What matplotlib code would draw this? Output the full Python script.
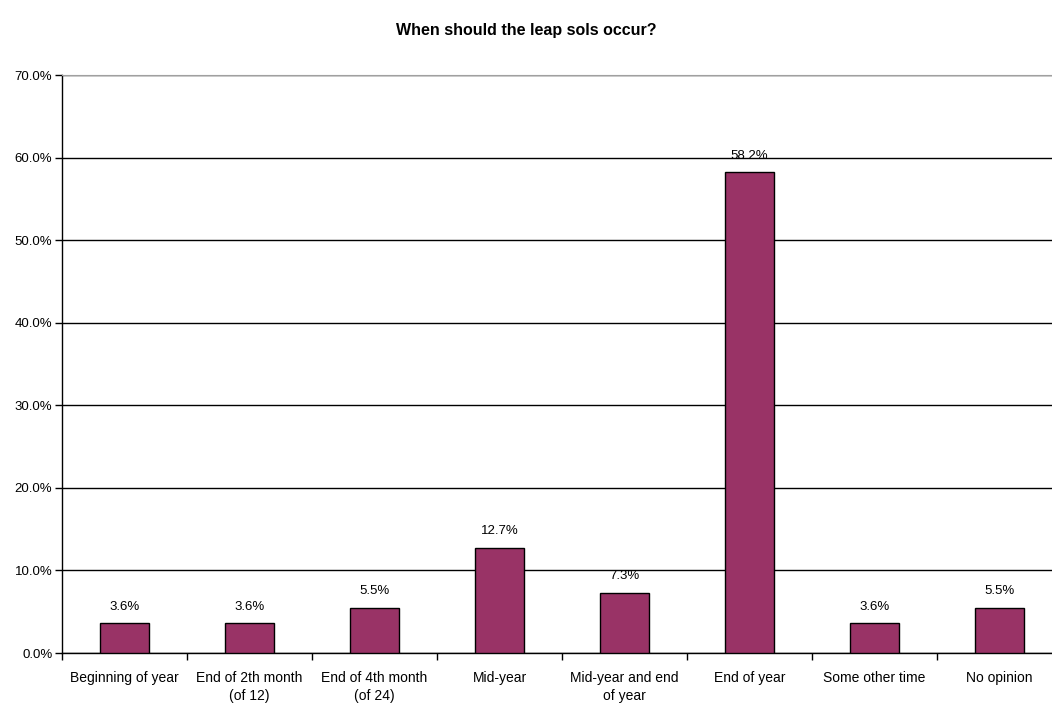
import numpy as np
import matplotlib.pyplot as plt
from matplotlib.ticker import FuncFormatter

plt.rcParams['font.family'] = ['Liberation Sans', 'DejaVu Sans']

# survey answers
answers = ['Beginning of year', 'End of 2th month\n(of 12)', 'End of 4th month\n(of 24)',
           'Mid-year', 'Mid-year and end\nof year', 'End of year',
           'Some other time', 'No opinion']
shares = [3.6, 3.6, 5.5, 12.7, 7.3, 58.2, 3.6, 5.5]

fig = plt.figure(figsize=(10.52, 7.06), dpi=100)
ax = fig.add_axes([62/1052, 1 - 653/706, 1000/1052, (653 - 75)/706])

x = np.arange(len(answers))
ax.bar(x, shares, width=0.39, color='#993366', edgecolor='black', linewidth=1, zorder=3)

for xi, v in zip(x, shares):
    ax.text(xi, v + 1.3, '%.1f%%' % v, ha='center', va='bottom', fontsize=9.5)

ax.set_xlim(-0.5, len(answers) - 0.5)
ax.set_ylim(0, 70)
ax.set_yticks(np.arange(0, 71, 10))
ax.yaxis.set_major_formatter(FuncFormatter(lambda v, p: '%.1f%%' % v))
ax.yaxis.grid(True, color='black', linewidth=1)
ax.set_axisbelow(True)

# ticks between categories, labels centered under bars
ax.set_xticks(np.arange(-0.5, len(answers), 1))
ax.set_xticklabels([])
ax.set_xticks(x, minor=True)
ax.set_xticklabels(answers, minor=True, fontsize=10, va='top', linespacing=1.35)
ax.tick_params(axis='x', which='minor', length=0, pad=13)
ax.tick_params(axis='x', which='major', length=5, direction='out', width=1)
ax.tick_params(axis='y', length=5, direction='out', width=1, labelsize=9.5, pad=2)

ax.spines['top'].set_color('#a0a0a0')
ax.spines['right'].set_visible(False)
ax.spines['left'].set_linewidth(1)
ax.spines['bottom'].set_linewidth(1)

fig.text(0.5, 1 - 30/706, 'When should the leap sols occur?', ha='center', va='center',
         fontsize=11.5, fontweight='bold')

plt.savefig('out.png', dpi=100)
